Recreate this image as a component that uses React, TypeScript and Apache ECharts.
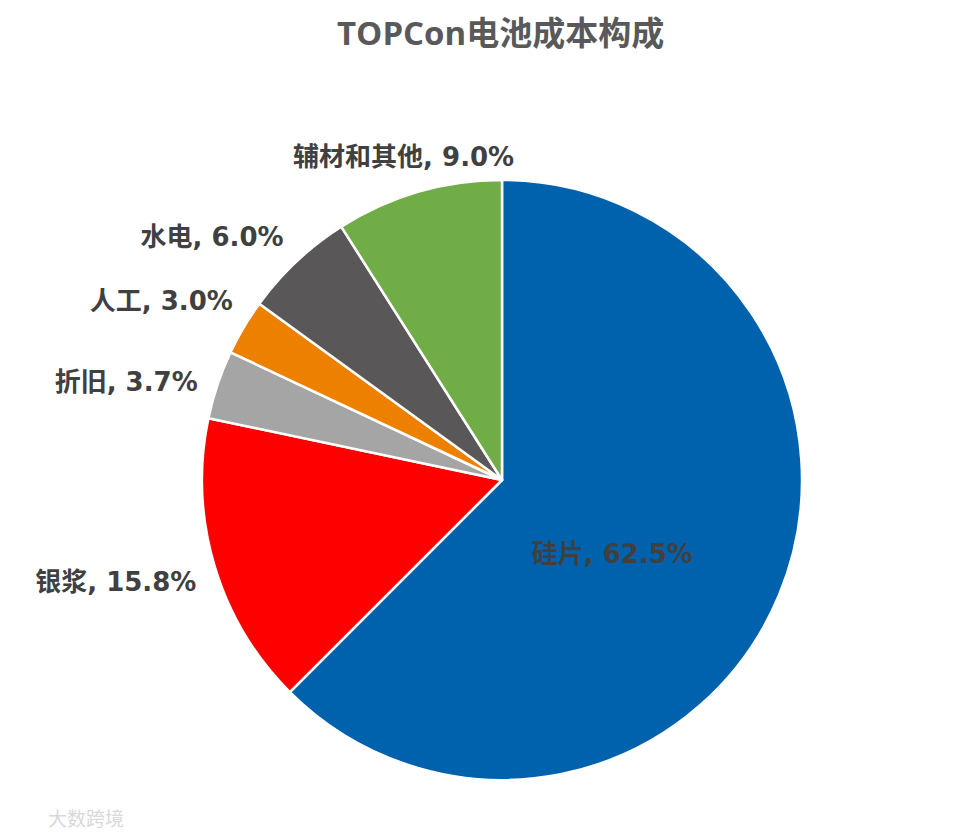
import React, { useEffect, useRef } from "react";
import * as echarts from "echarts";

const categories = ["硅片", "银浆", "折旧", "人工", "水电", "辅材和其他"];
const values = [62.5, 15.8, 3.7, 3.0, 6.0, 9.0];
const colors = ["#0062AD", "#FF0000", "#A5A5A5", "#EE8000", "#595757", "#70AD47"];

export default function App() {
  const ref = useRef<HTMLDivElement>(null);
  useEffect(() => {
    const chart = echarts.init(ref.current!, null, { renderer: "svg" });
    const titleFont = '"Open Sans", "Noto Sans CJK SC", sans-serif';
    const font = '"DejaVu Sans", "Noto Sans CJK SC", sans-serif';
    const shifts: Record<number, { dx: number; dy: number }> = {
      0: { dx: -31, dy: 15 },
      1: { dx: 12, dy: 10 },
      2: { dx: 10, dy: 4 },
      3: { dx: 17, dy: -15 },
      4: { dx: 11, dy: -8 },
      5: { dx: 111, dy: -14 },
    };
    chart.setOption({
      animation: false,
      backgroundColor: "#ffffff",
      title: {
        text: "TOPCon电池成本构成",
        left: 324,
        top: 3,
        textStyle: { fontFamily: titleFont, fontSize: 33, fontWeight: "bold", color: "#595959" },
      },
      graphic: [
        {
          type: "text",
          left: 40,
          top: 801,
          style: { text: "大数跨境", fontFamily: font, fontSize: 19, fill: "#d9d9d9" },
        },
      ],
      series: [
        {
          type: "pie",
          center: [494, 472],
          radius: 300,
          startAngle: 90,
          clockwise: true,
          data: categories.map((c, i) => ({
            name: c,
            value: values[i],
            itemStyle: { color: colors[i] },
            label: i === 0 ? { position: "inside" } : undefined,
          })),
          itemStyle: { borderColor: "#ffffff", borderWidth: 2.5 },
          label: {
            show: true,
            position: "outside",
            formatter: (p: any) => `${p.name}, ${p.value.toFixed(1)}%`,
            fontFamily: font,
            fontSize: 26,
            fontWeight: "bold",
            color: "#404040",
          },
          labelLine: { show: false, length: 22, length2: 4 },
          labelLayout: (p: any) => shifts[p.dataIndex] || {},
        },
      ],
    });
    return () => chart.dispose();
  }, []);
  return <div ref={ref} style={{ width: 947, height: 823 }} />;
}
